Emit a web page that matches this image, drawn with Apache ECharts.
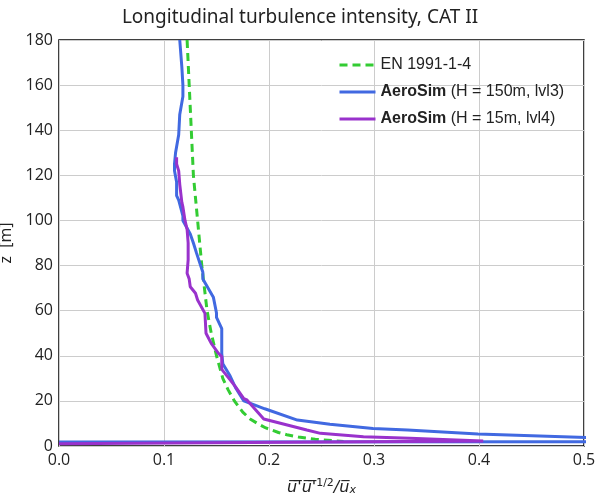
<!DOCTYPE html>
<html>
<head>
<meta charset="utf-8">
<script src="https://cdn.jsdelivr.net/npm/echarts@6/dist/echarts.min.js"></script>
<style>html,body{margin:0;padding:0;background:#fff}#c{width:600px;height:500px}</style>
</head>
<body>
<div id="c"></div>
<script>
// ---- data ----
const seriesNames = ['EN 1991-1-4', 'AeroSim (H = 150m, lvl3)', 'AeroSim (H = 15m, lvl4)'];
const xTicks = [0.0, 0.1, 0.2, 0.3, 0.4, 0.5];
const yTicks = [0, 20, 40, 60, 80, 100, 120, 140, 160, 180];

const enZ = [180, 160, 140, 120, 100, 80, 60, 50, 40, 30, 25, 20, 15, 12, 10, 8, 6, 5, 4, 3, 2];
const enI = [0.122, 0.124, 0.126, 0.128, 0.132, 0.136, 0.141, 0.145, 0.150, 0.156, 0.161, 0.167, 0.175, 0.182, 0.189, 0.197, 0.209, 0.217, 0.228, 0.244, 0.271];

const blueZ = [180, 168, 160, 155, 147, 138, 130, 125, 122, 117, 111, 109, 102, 100, 94, 90, 85.5, 77, 74, 66, 59, 57, 52, 41, 36.5, 31, 28, 26, 20, 16.5, 11.5, 9.6, 7.8, 7.1, 5.3, 3.7, 3.0, 2.0, 1.8];
const blueI = [0.115, 0.117, 0.118, 0.118, 0.115, 0.114, 0.111, 0.110, 0.110, 0.112, 0.112, 0.114, 0.118, 0.118, 0.125, 0.128, 0.131, 0.137, 0.137, 0.147, 0.150, 0.150, 0.155, 0.155, 0.156, 0.163, 0.166, 0.168, 0.176, 0.196, 0.227, 0.258, 0.299, 0.332, 0.399, 0.506, 0.600, 0.750, 0.0];

const purpleZ = [128, 125, 122, 116, 108, 106, 100, 96, 90, 82.5, 76.6, 74, 70.6, 67.7, 64.7, 58.8, 50, 45.5, 41, 39.6, 34, 29.3, 26.3, 21, 20.4, 12, 7.1, 5.6, 4.1, 3.4, 2.2, 1.0];
const purpleI = [0.112, 0.112, 0.114, 0.115, 0.117, 0.118, 0.120, 0.122, 0.123, 0.123, 0.122, 0.124, 0.125, 0.130, 0.132, 0.139, 0.140, 0.145, 0.152, 0.155, 0.155, 0.163, 0.168, 0.176, 0.179, 0.195, 0.236, 0.249, 0.290, 0.334, 0.404, 0.0];

const colors = ['#33cc33', '#4169e1', '#9932cc'];

function pairs(xs, ys) { return xs.map((x, i) => [x, ys[i]]); }

const chart = echarts.init(document.getElementById('c'), null, {renderer: 'canvas'});
const ov = '\u0305';
chart.setOption({
  animation: false,
  backgroundColor: '#fff',
  title: {
    text: 'Longitudinal turbulence intensity, CAT II',
    left: 'center', top: 3,
    textStyle: {fontFamily: 'Noto Sans', fontWeight: 'normal', fontSize: 19, color: '#222'}
  },
  grid: {left: 59, right: 16, top: 40, bottom: 54, show: true, borderColor: '#000', borderWidth: 1.5,
         backgroundColor: 'transparent', containLabel: false, outerBoundsMode: 'none'},
  legend: {
    left: 333, top: 52, orient: 'vertical', itemGap: 11, itemWidth: 36, itemHeight: 17,
    data: seriesNames,
    itemStyle: {opacity: 0},
    lineStyle: {width: 3},
    textStyle: {
      fontFamily: 'Liberation Sans', fontSize: 16, color: '#222',
      rich: {b: {fontFamily: 'Liberation Sans', fontWeight: 'bold', fontSize: 16, color: '#222'},
             n: {fontFamily: 'Liberation Sans', fontSize: 16, color: '#222'}}
    },
    formatter: function (name) {
      if (name.indexOf('AeroSim') === 0) return '{b|AeroSim}{n|' + name.slice(7) + '}';
      return name;
    }
  },
  xAxis: {
    type: 'value', min: xTicks[0], max: xTicks[xTicks.length - 1], interval: 0.1,
    name: '{o|u' + ov + '\'' + ov + 'u' + ov + '\'' + ov + '}{s|1/2}{o|/u' + ov + '}{x|x}',
    nameLocation: 'middle', nameGap: 32,
    nameTextStyle: {
      rich: {
        o: {fontFamily: 'DejaVu Sans', fontStyle: 'italic', fontSize: 16, color: '#222', verticalAlign: 'bottom', lineHeight: 18},
        s: {fontFamily: 'DejaVu Sans', fontSize: 11, color: '#222', verticalAlign: 'top', lineHeight: 18},
        x: {fontFamily: 'DejaVu Sans', fontStyle: 'italic', fontSize: 11, color: '#222', verticalAlign: 'bottom', lineHeight: 14}
      }
    },
    axisLine: {show: false}, axisTick: {show: false},
    axisLabel: {fontFamily: 'Open Sans', fontSize: 16, color: '#222', margin: 6, formatter: v => v.toFixed(1)},
    splitLine: {show: true, lineStyle: {color: '#cccccc', width: 1}}
  },
  yAxis: {
    type: 'value', min: yTicks[0], max: yTicks[yTicks.length - 1], interval: 20,
    name: 'z  [m]', nameLocation: 'middle', nameGap: 38,
    nameTextStyle: {fontFamily: 'Open Sans', fontSize: 16, color: '#222'},
    axisLine: {show: false}, axisTick: {show: false},
    axisLabel: {fontFamily: 'Open Sans', fontSize: 16, color: '#222', margin: 6},
    splitLine: {show: true, lineStyle: {color: '#cccccc', width: 1}}
  },
  series: [
    {name: seriesNames[0], type: 'line', data: pairs(enI, enZ), symbol: 'none', clip: true,
     lineStyle: {color: colors[0], width: 3, type: [8, 5]}, itemStyle: {color: colors[0]}},
    {name: seriesNames[1], type: 'line', data: pairs(blueI, blueZ), symbol: 'none', clip: true,
     lineStyle: {color: colors[1], width: 3}, itemStyle: {color: colors[1]}},
    {name: seriesNames[2], type: 'line', data: pairs(purpleI, purpleZ), symbol: 'none', clip: true,
     lineStyle: {color: colors[2], width: 3}, itemStyle: {color: colors[2]}}
  ]
});
</script>
</body>
</html>
